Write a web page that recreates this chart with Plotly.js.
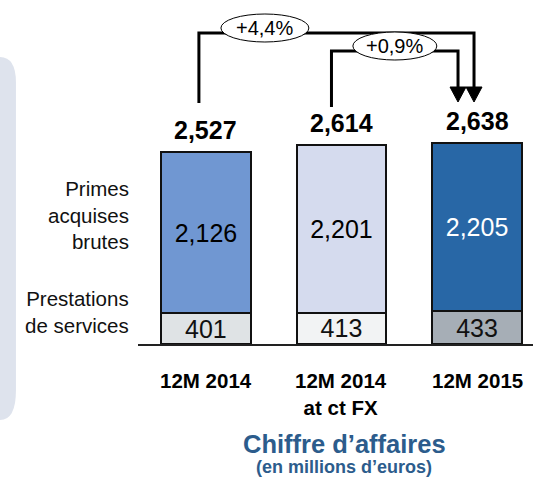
<!DOCTYPE html>
<html>
<head>
<meta charset="utf-8">
<script src="https://cdn.plot.ly/plotly-3.0.1.min.js"></script>
<style>
  body { margin: 0; background: #fff; }
  #chart { width: 533px; height: 483px; }
</style>
</head>
<body>
<div id="chart"></div>
<script>
// periods on the x axis
var periods = ['12M 2014', '12M 2014<br>at ct FX', '12M 2015'];
// stacked segments (bottom first)
var services = [401, 413, 433];
var primes = [2126, 2201, 2205];
var totals = [2527, 2614, 2638];
// row labels on the left
var serviceName = 'Prestations<br>de services';
var primesName = 'Primes<br>acquises<br>brutes';
// growth brackets
var growthLabels = ['+4,4%', '+0,9%'];
var growthFrom = [0, 1];
var growthTo = [2, 2];

// colours per period
var primesColors = ['#7097d2', '#d5dbee', '#2867a6'];
var primesText = ['#000', '#000', '#fff'];
var servicesColors = ['#dfe3e5', '#f2f3f4', '#a6aeb6'];
var titleColor = '#2c5c8c';

// plot geometry
var plotH = 344;
var yMax = 4520;
var uY = yMax / plotH;     // y units per pixel
var uX = 1 / 135.6;        // x units per pixel
var font = 'Liberation Sans, Arial, sans-serif';

var idx = [0, 1, 2];

var traceServices = {
  x: idx, y: services, type: 'bar', name: 'services',
  width: 0.663,
  marker: {color: servicesColors, line: {color: '#111', width: 2}},
  texttemplate: '%{y:,.0f}', textposition: 'inside', insidetextanchor: 'middle',
  constraintext: 'none', textangle: 0,
  textfont: {family: font, size: 25, color: '#111'},
  hoverinfo: 'skip'
};
var tracePrimes = {
  x: idx, y: primes, type: 'bar', name: 'primes',
  width: 0.663,
  marker: {color: primesColors, line: {color: '#111', width: 2}},
  texttemplate: '%{y:,.0f}', textposition: 'inside', insidetextanchor: 'middle',
  constraintext: 'none', textangle: 0,
  textfont: {family: font, size: 25, color: primesText},
  hoverinfo: 'skip'
};

var annotations = [];
var shapes = [];

// left background panel
shapes.push({
  type: 'path', xref: 'paper', yref: 'paper', layer: 'below',
  path: 'M -0.40,0.834 H -0.350 Q -0.309,0.834 -0.309,0.760 V -0.135 Q -0.309,-0.221 -0.350,-0.221 H -0.40 Z',
  fillcolor: '#dee3ed', line: {width: 0}
});

// totals above bars, period labels below
idx.forEach(function (i) {
  annotations.push({
    x: i, y: totals[i], xref: 'x', yref: 'y', yanchor: 'bottom', yshift: 6,
    text: '<b>' + totals[i].toLocaleString('en-US') + '</b>', showarrow: false,
    font: {family: font, size: 25, color: '#000'}
  });
  annotations.push({
    x: i, y: 0, xref: 'x', yref: 'y', yanchor: 'top', yshift: -23,
    text: '<b>' + periods[i] + '</b>', showarrow: false,
    font: {family: font, size: 20.5, color: '#000'}
  });
});

// row labels
annotations.push({
  x: -0.018, y: 0.375, xref: 'paper', yref: 'paper', xanchor: 'right', yanchor: 'middle', align: 'right',
  text: primesName, showarrow: false, font: {family: font, size: 20.5, color: '#111'}
});
annotations.push({
  x: -0.018, y: 0.093, xref: 'paper', yref: 'paper', xanchor: 'right', yanchor: 'middle', align: 'right',
  text: serviceName, showarrow: false, font: {family: font, size: 20.5, color: '#111'}
});

// growth brackets
var startPx = [103, 107];      // pixel rows where bracket leaves the bar
var topPx = [33, 51];
var startDx = [-7, -10];
var endDx = [-3, -19];
var ovalCx = [265, 395];
var ovalW = [88, 84];
var tipPx = 102, headH = 15, headW = 8;
function yv(p) { return (plotH - p) * uY; }
growthLabels.forEach(function (lab, k) {
  var xs = growthFrom[k] + startDx[k] * uX;
  var xe = growthTo[k] + endDx[k] * uX;
  shapes.push({
    type: 'path', xref: 'x', yref: 'y',
    path: 'M ' + xs + ',' + yv(startPx[k]) + ' V ' + yv(topPx[k]) + ' H ' + xe + ' V ' + yv(tipPx - headH + 1),
    line: {color: '#000', width: 3}
  });
  shapes.push({
    type: 'path', xref: 'x', yref: 'y',
    path: 'M ' + (xe - headW * uX) + ',' + yv(tipPx - headH) + ' L ' + (xe + headW * uX) + ',' + yv(tipPx - headH) +
          ' L ' + xe + ',' + yv(tipPx) + ' Z',
    fillcolor: '#000', line: {color: '#000', width: 1}
  });
});
growthLabels.forEach(function (lab, k) {
  var cx = (ovalCx[k] - 206) * uX;
  var cy = yv(topPx[k] - 5);
  shapes.push({
    type: 'circle', xref: 'x', yref: 'y',
    x0: cx - ovalW[k] / 2 * uX, x1: cx + ovalW[k] / 2 * uX,
    y0: cy - 14 * uY, y1: cy + 14 * uY,
    fillcolor: '#fff', line: {color: '#000', width: 1}
  });
  annotations.push({
    x: cx, y: cy, xref: 'x', yref: 'y', text: lab, showarrow: false,
    font: {family: font, size: 20, color: '#000'}
  });
});

// title
annotations.push({
  x: 1.02, y: -0.291, xref: 'x', yref: 'paper', yanchor: 'middle', showarrow: false,
  text: '<b>Chiffre d’affaires</b>', font: {family: font, size: 25.5, color: titleColor}
});
annotations.push({
  x: 1.02, y: -0.358, xref: 'x', yref: 'paper', yanchor: 'middle', showarrow: false,
  text: '<b>(en millions d’euros)</b>', font: {family: font, size: 18, color: titleColor}
});

var layout = {
  width: 533, height: 483,
  margin: {l: 138, r: 0, t: 0, b: 139},
  barmode: 'stack',
  showlegend: false,
  paper_bgcolor: '#fff', plot_bgcolor: '#fff',
  font: {family: font, color: '#000'},
  xaxis: {range: [-0.501, 2.413], showticklabels: false, ticks: '', showgrid: false,
          zeroline: false, showline: true, linecolor: '#222', linewidth: 2, fixedrange: true},
  yaxis: {range: [0, yMax], visible: false, fixedrange: true},
  shapes: shapes,
  annotations: annotations
};

Plotly.newPlot('chart', [traceServices, tracePrimes], layout, {displayModeBar: false, staticPlot: true});
</script>
</body>
</html>
